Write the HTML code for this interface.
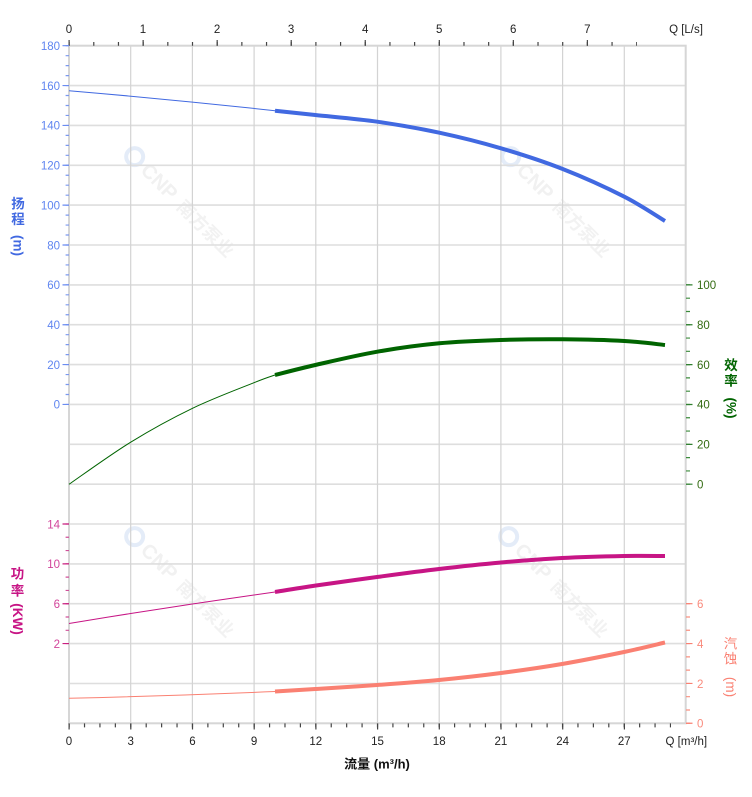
<!DOCTYPE html>
<html><head><meta charset="utf-8"><style>
html,body{margin:0;padding:0;background:#fff;}
svg{display:block;}
text{font-family:"Liberation Sans","Noto Sans CJK SC",sans-serif;}
</style></head><body>
<svg width="752" height="797" viewBox="0 0 752 797" xmlns="http://www.w3.org/2000/svg">
<!-- watermarks -->
<g>
  <g transform="translate(187,209) rotate(45)">
    <circle cx="-74" cy="0" r="8.5" fill="none" stroke="#e4ecf8" stroke-width="4"/>
    <text x="-60" y="7" font-size="20" font-weight="bold" fill="#f1f1f1">CNP</text>
    <text x="-9" y="7" font-size="18" font-weight="bold" fill="#f2f2f2" font-family="Noto Sans CJK SC, sans-serif">南方泵业</text>
  </g>
  <g transform="translate(563,209) rotate(45)">
    <circle cx="-74" cy="0" r="8.5" fill="none" stroke="#e4ecf8" stroke-width="4"/>
    <text x="-60" y="7" font-size="20" font-weight="bold" fill="#f1f1f1">CNP</text>
    <text x="-9" y="7" font-size="18" font-weight="bold" fill="#f2f2f2" font-family="Noto Sans CJK SC, sans-serif">南方泵业</text>
  </g>
  <g transform="translate(187,589) rotate(45)">
    <circle cx="-74" cy="0" r="8.5" fill="none" stroke="#e4ecf8" stroke-width="4"/>
    <text x="-60" y="7" font-size="20" font-weight="bold" fill="#f1f1f1">CNP</text>
    <text x="-9" y="7" font-size="18" font-weight="bold" fill="#f2f2f2" font-family="Noto Sans CJK SC, sans-serif">南方泵业</text>
  </g>
  <g transform="translate(561,589) rotate(45)">
    <circle cx="-74" cy="0" r="8.5" fill="none" stroke="#e4ecf8" stroke-width="4"/>
    <text x="-60" y="7" font-size="20" font-weight="bold" fill="#f1f1f1">CNP</text>
    <text x="-9" y="7" font-size="18" font-weight="bold" fill="#f2f2f2" font-family="Noto Sans CJK SC, sans-serif">南方泵业</text>
  </g>
</g>

<!-- horizontal grid -->
<g stroke="#dedede" stroke-width="1.6">
<line x1="69" x2="686" y1="85.6" y2="85.6"/>
<line x1="69" x2="686" y1="125.4" y2="125.4"/>
<line x1="69" x2="686" y1="165.3" y2="165.3"/>
<line x1="69" x2="686" y1="205.1" y2="205.1"/>
<line x1="69" x2="686" y1="245" y2="245"/>
<line x1="69" x2="686" y1="284.9" y2="284.9"/>
<line x1="69" x2="686" y1="324.7" y2="324.7"/>
<line x1="69" x2="686" y1="364.6" y2="364.6"/>
<line x1="69" x2="686" y1="404.4" y2="404.4"/>
<line x1="69" x2="686" y1="444.3" y2="444.3"/>
<line x1="69" x2="686" y1="484.2" y2="484.2"/>
<line x1="69" x2="686" y1="524" y2="524"/>
<line x1="69" x2="686" y1="563.9" y2="563.9"/>
<line x1="69" x2="686" y1="603.7" y2="603.7"/>
<line x1="69" x2="686" y1="643.6" y2="643.6"/>
<line x1="69" x2="686" y1="683.5" y2="683.5"/>
</g>
<!-- vertical grid -->
<g stroke="#d3d3d3" stroke-width="1.2">
<line y1="45.7" y2="723.3" x1="130.7" x2="130.7"/>
<line y1="45.7" y2="723.3" x1="192.4" x2="192.4"/>
<line y1="45.7" y2="723.3" x1="254.1" x2="254.1"/>
<line y1="45.7" y2="723.3" x1="315.8" x2="315.8"/>
<line y1="45.7" y2="723.3" x1="377.5" x2="377.5"/>
<line y1="45.7" y2="723.3" x1="439.2" x2="439.2"/>
<line y1="45.7" y2="723.3" x1="500.9" x2="500.9"/>
<line y1="45.7" y2="723.3" x1="562.6" x2="562.6"/>
<line y1="45.7" y2="723.3" x1="624.3" x2="624.3"/>
</g>
<!-- border -->
<rect x="69" y="45.7" width="616.7" height="677.6" fill="none" stroke="#d6d6d6" stroke-width="2"/>

<!-- top ticks -->
<line x1="68.5" x2="637" y1="43.85" y2="43.85" stroke="#444" stroke-width="3.7" stroke-dasharray="1.2 23.48"/>
<line x1="68.5" x2="588" y1="42.85" y2="42.85" stroke="#444" stroke-width="5.7" stroke-dasharray="1.2 72.84"/>
<!-- bottom ticks -->
<line x1="68.5" x2="671" y1="725.4" y2="725.4" stroke="#444" stroke-width="4" stroke-dasharray="1.2 14.22"/>
<line x1="68.5" x2="626" y1="726.5" y2="726.5" stroke="#444" stroke-width="6" stroke-dasharray="1.2 60.5"/>

<!-- head ticks left -->
<line x1="67.3" x2="67.3" y1="45.1" y2="405.5" stroke="#7b98ee" stroke-width="3.4" stroke-dasharray="1.2 8.765"/>
<line x1="65.75" x2="65.75" y1="45.1" y2="405.5" stroke="#6b8cf0" stroke-width="6.5" stroke-dasharray="1.2 38.66"/>
<!-- efficiency ticks right -->
<line x1="688" x2="688" y1="284.3" y2="485" stroke="#3b8b3b" stroke-width="4" stroke-dasharray="1.2 12.087"/>
<line x1="689.25" x2="689.25" y1="284.3" y2="485" stroke="#2f7f2f" stroke-width="6.5" stroke-dasharray="1.2 38.66"/>
<!-- power ticks left -->
<line x1="67.3" x2="67.3" y1="523.4" y2="644.5" stroke="#d0509a" stroke-width="3.4" stroke-dasharray="1.2 12.087"/>
<line x1="65.75" x2="65.75" y1="523.4" y2="644.5" stroke="#c8207f" stroke-width="6.5" stroke-dasharray="1.2 38.66"/>
<!-- npsh ticks right -->
<line x1="688" x2="688" y1="603.1" y2="724" stroke="#f99080" stroke-width="4" stroke-dasharray="1.2 12.087"/>
<line x1="689.25" x2="689.25" y1="603.1" y2="724" stroke="#fa8072" stroke-width="6.5" stroke-dasharray="1.2 38.66"/>

<!-- curves -->
<!-- head -->
<path d="M69,90.7 Q172,99.5 275,110.7" fill="none" stroke="#4169E1" stroke-width="1"/>
<path d="M275,110.7 C281.7,111.4 298.25,113.17 315.3,115 C332.35,116.83 356.63,118.75 377.3,121.7 C397.97,124.65 418.68,128.27 439.3,132.7 C459.92,137.13 480.43,142.25 501,148.3 C521.57,154.35 542.15,160.93 562.7,169 C583.25,177.07 607.25,188.03 624.3,196.7 C641.35,205.37 658.22,216.95 665,221" fill="none" stroke="#4169E1" stroke-width="4"/>
<!-- efficiency -->
<path d="M69,484.3 C79.25,477.3 109.92,454.97 130.5,442.3 C151.08,429.63 171.92,418.23 192.5,408.3 C213.08,398.37 240.25,388.25 254,382.7 C267.75,377.15 271.5,376.28 275,375" fill="none" stroke="#006400" stroke-width="1"/>
<path d="M275,375 C281.72,373.33 298.25,368.88 315.3,365 C332.35,361.12 356.63,355.32 377.3,351.7 C397.97,348.08 418.68,345.25 439.3,343.3 C459.92,341.35 480.43,340.67 501,340 C521.57,339.33 542.15,339.13 562.7,339.3 C583.25,339.47 607.25,340.05 624.3,341 C641.35,341.95 658.22,344.33 665,345" fill="none" stroke="#006400" stroke-width="4"/>
<!-- power -->
<path d="M69,623.5 C79.28,621.83 110.13,616.75 130.7,613.5 C151.27,610.25 171.85,607.08 192.4,604 C212.95,600.92 240.23,597 254,595 C267.77,593 271.5,592.5 275,592" fill="none" stroke="#C71585" stroke-width="1"/>
<path d="M275,592 C281.83,590.92 299,588 316,585.5 C333,583 356.5,579.75 377,577 C397.5,574.25 418.33,571.42 439,569 C459.67,566.58 480.5,564.33 501,562.5 C521.5,560.67 541.5,559.08 562,558 C582.5,556.92 606.83,556.33 624,556 C641.17,555.67 658.17,556 665,556" fill="none" stroke="#C71585" stroke-width="4"/>
<!-- npsh -->
<path d="M69,698.3 Q172,695.8 275,691.5" fill="none" stroke="#FA8072" stroke-width="1"/>
<path d="M275,691.5 C281.83,691.08 299,690.08 316,689 C333,687.92 356.5,686.5 377,685 C397.5,683.5 418.33,682 439,680 C459.67,678 480.5,675.67 501,673 C521.5,670.33 541.5,667.5 562,664 C582.5,660.5 606.83,655.58 624,652 C641.17,648.42 658.17,644.08 665,642.5" fill="none" stroke="#FA8072" stroke-width="4"/>

<!-- top labels -->
<g font-size="11.5" fill="#222" text-anchor="middle">
<text x="69" y="33">0</text>
<text x="143" y="33">1</text>
<text x="217.1" y="33">2</text>
<text x="291.1" y="33">3</text>
<text x="365.2" y="33">4</text>
<text x="439.2" y="33">5</text>
<text x="513.2" y="33">6</text>
<text x="587.3" y="33">7</text>
<text x="686" y="33">Q [L/s]</text>
</g>
<!-- bottom labels -->
<g font-size="11.5" fill="#222" text-anchor="middle">
<text x="69" y="745">0</text>
<text x="130.7" y="745">3</text>
<text x="192.4" y="745">6</text>
<text x="254.1" y="745">9</text>
<text x="315.8" y="745">12</text>
<text x="377.5" y="745">15</text>
<text x="439.2" y="745">18</text>
<text x="500.9" y="745">21</text>
<text x="562.6" y="745">24</text>
<text x="624.3" y="745">27</text>
<text x="686.3" y="745">Q [m³/h]</text>
</g>
<text x="377" y="768.5" font-size="13" font-weight="bold" fill="#111" text-anchor="middle">流量 (m³/h)</text>

<!-- head labels -->
<g font-size="11.5" fill="#5f85f0" text-anchor="end">
<text x="60" y="50">180</text>
<text x="60" y="89.9">160</text>
<text x="60" y="129.7">140</text>
<text x="60" y="169.6">120</text>
<text x="60" y="209.4">100</text>
<text x="60" y="249.3">80</text>
<text x="60" y="289.2">60</text>
<text x="60" y="329">40</text>
<text x="60" y="368.9">20</text>
<text x="60" y="408.7">0</text>
</g>
<!-- efficiency labels -->
<g font-size="11.5" fill="#336b12" text-anchor="start">
<text x="697" y="289.2">100</text>
<text x="697" y="329">80</text>
<text x="697" y="368.9">60</text>
<text x="697" y="408.7">40</text>
<text x="697" y="448.6">20</text>
<text x="697" y="488.5">0</text>
</g>
<!-- power labels -->
<g font-size="11.5" fill="#d2449a" text-anchor="end">
<text x="60" y="528.3">14</text>
<text x="60" y="568.2">10</text>
<text x="60" y="608">6</text>
<text x="60" y="647.9">2</text>
</g>
<!-- npsh labels -->
<g font-size="11.5" fill="#f98a7c" text-anchor="start">
<text x="697" y="608">6</text>
<text x="697" y="647.9">4</text>
<text x="697" y="687.8">2</text>
<text x="697" y="727.6">0</text>
</g>

<!-- axis titles -->
<g font-size="13.5" font-weight="bold" text-anchor="middle" dominant-baseline="central">
  <g fill="#4169E1">
    <text x="18" y="204">扬</text>
    <text x="18" y="219.5">程</text>
    <text transform="translate(18,245.5) rotate(90)">(m)</text>
  </g>
  <g fill="#006400">
    <text x="731" y="365.5">效</text>
    <text x="731" y="381">率</text>
    <text transform="translate(731,408) rotate(90)">(%)</text>
  </g>
  <g fill="#C71585">
    <text x="17.5" y="574">功</text>
    <text x="17.5" y="591">率</text>
    <text transform="translate(17.5,619) rotate(90)">(KW)</text>
  </g>
  <g fill="#FA8072" font-weight="normal">
    <text x="730.5" y="644">汽</text>
    <text x="730.5" y="659">蚀</text>
    <text transform="translate(730.5,687) rotate(90)">(m)</text>
  </g>
</g>
</svg>
</body></html>
